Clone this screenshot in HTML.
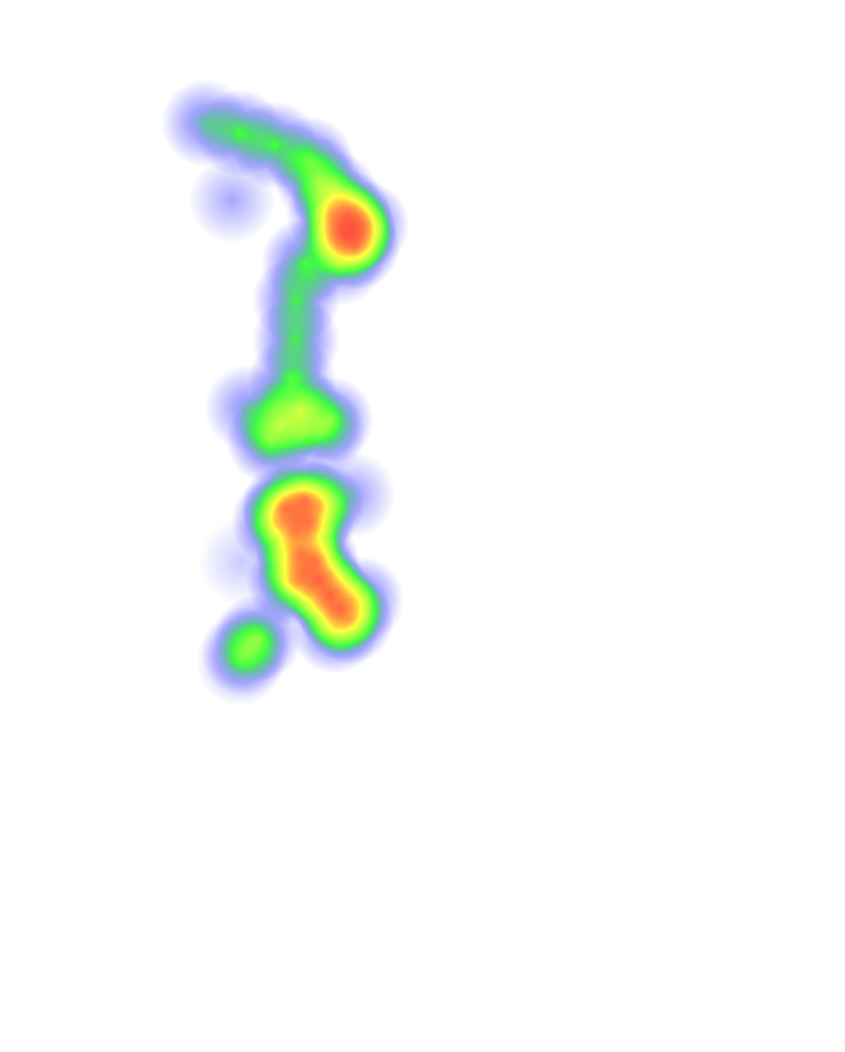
<!DOCTYPE html>
<html>
<head>
<meta charset="utf-8">
<style>
html,body{margin:0;padding:0;background:#fff;width:845px;height:1052px;overflow:hidden;font-family:"Liberation Sans",sans-serif;}
#wrap{position:relative;width:845px;height:1052px;}
canvas{position:absolute;left:0;top:0;}
</style>
</head>
<body>
<div id="wrap">
<canvas id="heat" width="845" height="1052"></canvas>
</div>
<script>
// Heatmap data points
const xs = [205, 240, 275, 310, 232, 335, 352, 348, 356, 344, 330, 366, 340, 318, 305, 296, 296, 292, 248, 270, 300, 330, 282, 322, 352, 285, 305, 275, 320, 310, 295, 300, 315, 320, 290, 302, 330, 340, 360, 350, 335, 258, 245, 240, 242];
const ys = [123, 133, 145, 160, 200, 195, 230, 214, 246, 235, 215, 225, 262, 180, 262, 300, 340, 380, 408, 440, 410, 420, 425, 432, 495, 508, 500, 522, 505, 522, 532, 555, 560, 580, 582, 576, 596, 610, 600, 620, 630, 638, 652, 662, 562];
const vals = [0.4, 0.5, 0.5, 0.48, 0.25, 0.5, 0.9, 0.7, 0.7, 0.7, 0.5, 0.5, 0.4, 0.45, 0.5, 0.5, 0.5, 0.5, 0.35, 0.55, 0.55, 0.5, 0.5, 0.4, 0.3, 0.8, 0.8, 0.6, 0.6, 0.7, 0.6, 0.7, 0.7, 0.8, 0.6, 0.6, 0.8, 0.8, 0.5, 0.6, 0.5, 0.55, 0.4, 0.3, 0.15];
const maxVal = 1;
const radius = 44;

const canvas = document.getElementById('heat');
const ctx = canvas.getContext('2d');
const W = canvas.width, H = canvas.height;

const sh = document.createElement('canvas');
sh.width = W; sh.height = H;
const sctx = sh.getContext('2d');
for (let i = 0; i < xs.length; i++) {
  const g = sctx.createRadialGradient(xs[i], ys[i], 0, xs[i], ys[i], radius);
  g.addColorStop(0, 'rgba(0,0,0,1)');
  g.addColorStop(1, 'rgba(0,0,0,0)');
  sctx.globalAlpha = Math.min(1, vals[i] / maxVal);
  sctx.fillStyle = g;
  sctx.fillRect(xs[i] - radius, ys[i] - radius, radius * 2, radius * 2);
}

const pc = document.createElement('canvas');
pc.width = 256; pc.height = 1;
const pctx = pc.getContext('2d');
const lg = pctx.createLinearGradient(0, 0, 256, 1);
lg.addColorStop(0.25, 'rgb(0,0,255)');
lg.addColorStop(0.55, 'rgb(0,255,0)');
lg.addColorStop(0.85, 'yellow');
lg.addColorStop(1.0, 'rgb(255,0,0)');
pctx.fillStyle = lg;
pctx.fillRect(0, 0, 256, 1);
const pal = pctx.getImageData(0, 0, 256, 1).data;

const img = sctx.getImageData(0, 0, W, H);
const d = img.data;
const maxOpacity = 0.75;
for (let p = 3; p < d.length; p += 4) {
  const a = d[p];
  if (!a) continue;
  const o = a * 4;
  d[p - 3] = pal[o];
  d[p - 2] = pal[o + 1];
  d[p - 1] = pal[o + 2];
  d[p] = Math.min(255 * maxOpacity, a * 1.4);
}
ctx.putImageData(img, 0, 0);
</script>
</body>
</html>
